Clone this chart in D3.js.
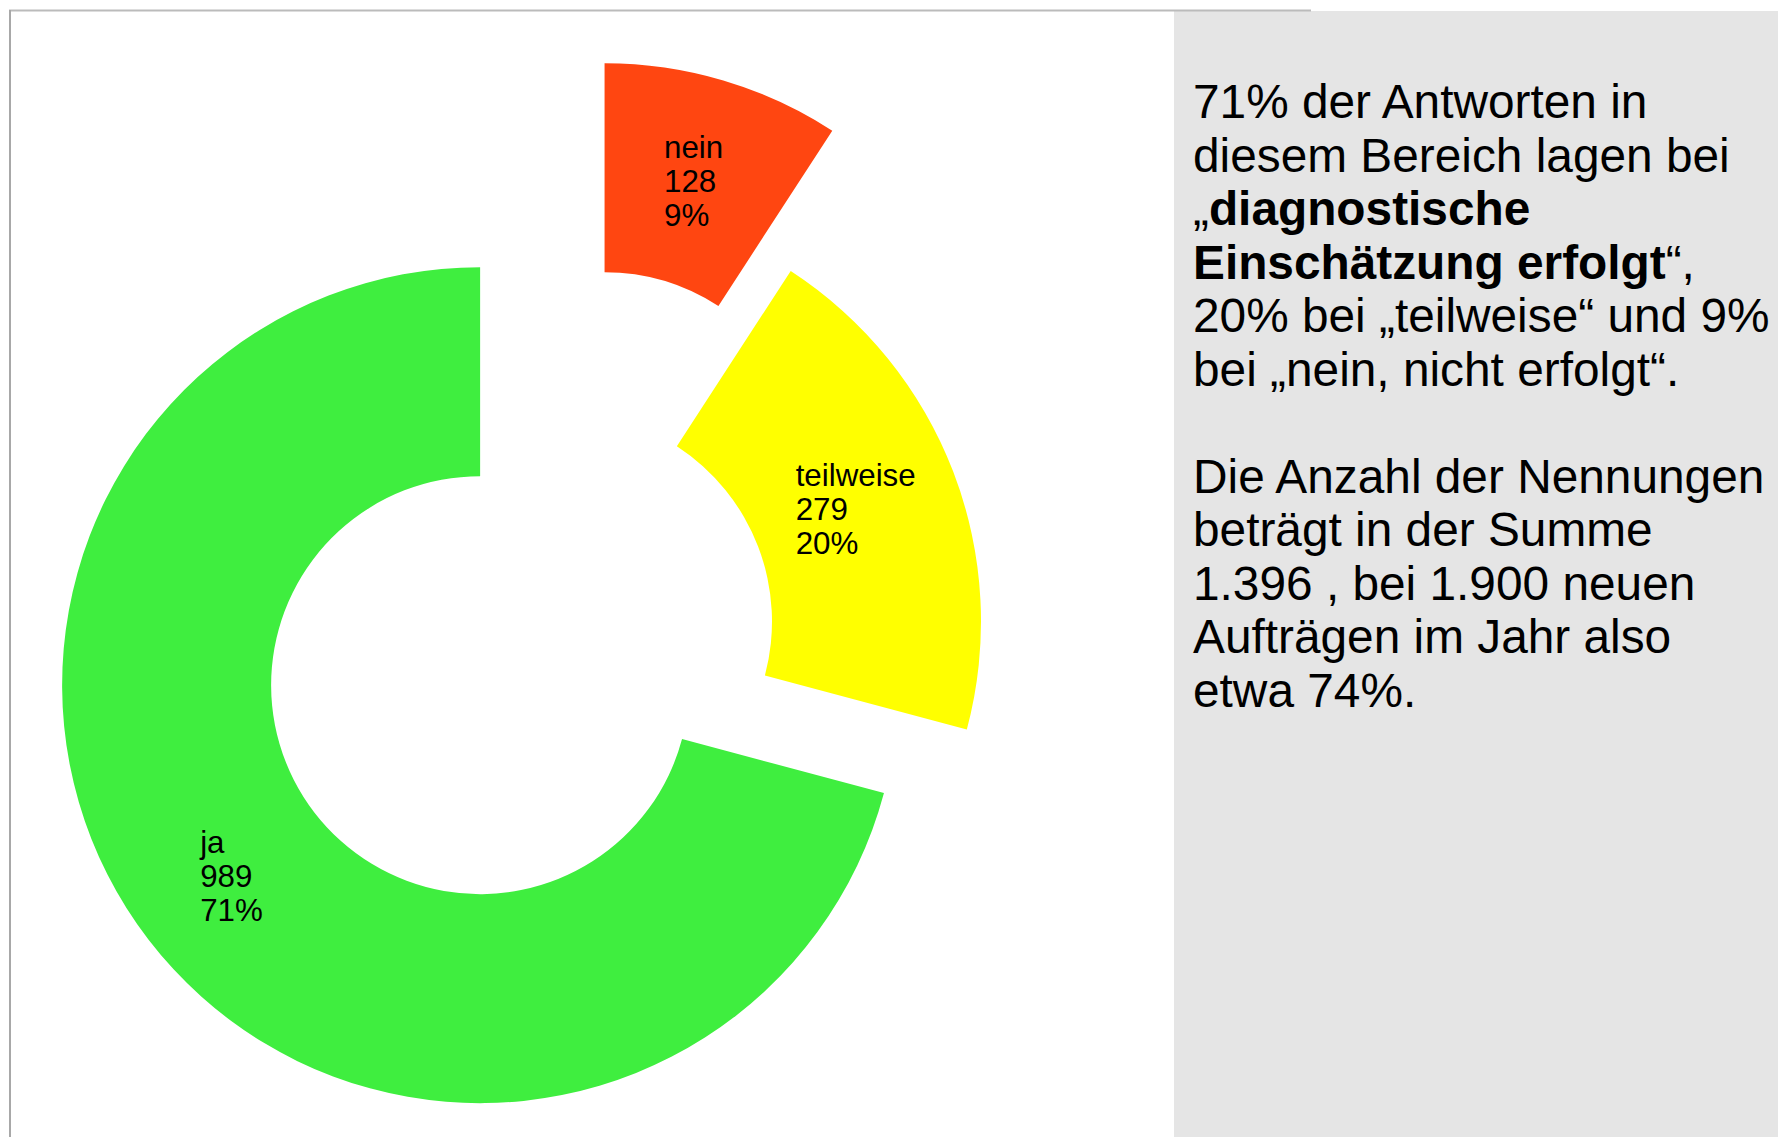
<!DOCTYPE html>
<html>
<head>
<meta charset="utf-8">
<script src="https://cdn.jsdelivr.net/npm/d3@7"></script>
<style>
  body { margin: 0; background: #fff; }
  svg { display: block; font-family: "Liberation Sans", Arial, sans-serif; }
</style>
</head>
<body>
<div id="chart"></div>
<script>
// slices, clockwise from 12 o'clock
let categories = ["nein", "teilweise", "ja"];
let values = [128, 279, 989];
let colors = ["#ff4611", "#ffff00", "#3fee3f"];
let explode = [0.35, 0, 0.25]; // fraction of outer radius

// text box on the right, one entry per line: [text, bold?]
let noteLines = [
    [["71% der Antworten in", false]],
    [["diesem Bereich lagen bei", false]],
    [["„", false], ["diagnostische", true]],
    [["Einschätzung erfolgt", true], ["“,", false]],
    [["20% bei „teilweise“ und 9%", false]],
    [["bei „nein, nicht erfolgt“.", false]],
    [],
    [["Die Anzahl der Nennungen", false]],
    [["beträgt in der Summe", false]],
    [["1.396 , bei 1.900 neuen", false]],
    [["Aufträgen im Jahr also", false]],
    [["etwa 74%.", false]]
];

let W = 1778, H = 1137;
let cx = 563, cy = 621.5;
let outerR = 418, innerR = 209;

let svg = d3.select("#chart").append("svg").attr("width", W).attr("height", H);

// frame lines and grey note panel
svg.append("rect").attr("x", 1174).attr("y", 11).attr("width", W - 1174).attr("height", H - 11)
    .attr("fill", "#e5e5e5");
svg.append("line").attr("x1", 9).attr("x2", 1311).attr("y1", 10.5).attr("y2", 10.5)
    .attr("stroke", "#bbbbbb").attr("stroke-width", 2);
svg.append("line").attr("x1", 10).attr("x2", 10).attr("y1", 10).attr("y2", H)
    .attr("stroke", "#a8a8a8").attr("stroke-width", 2);

let total = d3.sum(values);
let data = categories.map(function(c, i) {
    return { name: c, value: values[i], color: colors[i], explode: explode[i] };
});

let pie = d3.pie().sort(null).value(function(d) { return d.value; });
let arc = d3.arc().innerRadius(innerR).outerRadius(outerR);
let arcs = pie(data);

let offset = function(d) {
    let mid = (d.startAngle + d.endAngle) / 2;
    let dist = d.data.explode * outerR;
    return [Math.sin(mid) * dist, -Math.cos(mid) * dist];
};

let slices = svg.append("g").attr("transform", "translate(" + cx + "," + cy + ")");

slices.selectAll(".slice").data(arcs).enter().append("path")
    .classed("slice", true)
    .attr("transform", function(d) { let o = offset(d); return "translate(" + o[0] + "," + o[1] + ")"; })
    .attr("d", arc)
    .attr("fill", function(d) { return d.data.color; });

// data labels: three left-aligned lines, block centred on the arc centroid
let fs = 31.3, lh = 34;
slices.selectAll(".lbl").data(arcs).enter().append("text")
    .classed("lbl", true)
    .attr("font-size", fs)
    .attr("fill", "#000")
    .each(function(d) {
        let t = d3.select(this);
        let o = offset(d);
        let c = arc.centroid(d);
        let px = c[0] + o[0], py = c[1] + o[1];
        let lines = [d.data.name, String(d.data.value), Math.round(d.data.value / total * 100) + "%"];
        let spans = lines.map(function(s, i) {
            return t.append("tspan").attr("y", py + 0.35 * fs + (i - 1) * lh).text(s);
        });
        let maxW = d3.max(spans, function(s) { return s.node().getComputedTextLength(); });
        spans.forEach(function(s) { s.attr("x", px - maxW / 2); });
    });

// note text
let note = svg.append("g").attr("font-size", 47.8).attr("fill", "#000");
noteLines.forEach(function(parts, i) {
    if (parts.length == 0) return;
    let t = note.append("text").attr("x", 1193).attr("y", 118.3 + i * 53.5);
    parts.forEach(function(p) {
        t.append("tspan").attr("font-weight", p[1] ? "bold" : "normal").text(p[0]);
    });
});
</script>
</body>
</html>
